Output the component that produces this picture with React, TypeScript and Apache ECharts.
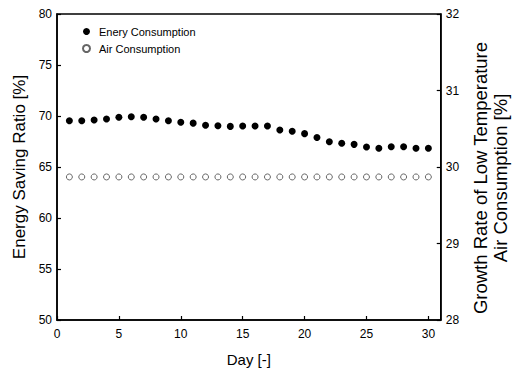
import React, { useEffect, useRef } from "react";
import * as echarts from "echarts";

const days = [1,2,3,4,5,6,7,8,9,10,11,12,13,14,15,16,17,18,19,20,21,22,23,24,25,26,27,28,29,30];
const energySaving = [69.54,69.54,69.6,69.7,69.87,69.93,69.87,69.7,69.54,69.38,69.3,69.1,69.05,68.98,69.02,69.02,69.02,68.63,68.5,68.27,67.9,67.48,67.32,67.22,66.96,66.83,66.99,66.99,66.83,66.83];
const airConsumption = [29.87,29.87,29.87,29.87,29.87,29.87,29.87,29.87,29.87,29.87,29.87,29.87,29.87,29.87,29.87,29.87,29.87,29.87,29.87,29.87,29.87,29.87,29.87,29.87,29.87,29.87,29.87,29.87,29.87,29.87];
const seriesNames = ["Enery Consumption", "Air Consumption"];

const FONT = "Liberation Sans, Arial, sans-serif";

export default function App() {
  const ref = useRef<HTMLDivElement>(null);
  useEffect(() => {
    if (!ref.current) return;
    const chart = echarts.init(ref.current, null, { renderer: "svg" });
    const axisLine = { show: true, lineStyle: { color: "#000", width: 1.5 } };
    const axisTick = { show: true, inside: true, length: 4, lineStyle: { color: "#000", width: 1.2 } };
    chart.setOption({
      animation: false,
      textStyle: { fontFamily: FONT },
      grid: { left: 57, right: 68, top: 14, bottom: 53, show: true, borderColor: "#000", borderWidth: 1.5, backgroundColor: "transparent" },
      legend: {
        orient: "vertical",
        left: 82,
        top: 26,
        padding: 0,
        itemGap: 6,
        itemWidth: 7,
        itemHeight: 7,
        textStyle: { fontFamily: FONT, fontSize: 11, color: "#000", padding: [0, 0, 0, 4] },
        data: seriesNames,
      },
      xAxis: {
        type: "value",
        min: 0,
        max: 31,
        interval: 5,
        name: "Day [-]",
        nameLocation: "middle",
        nameGap: 32,
        nameTextStyle: { fontFamily: FONT, fontSize: 15, color: "#000" },
        axisLine,
        axisTick,
        splitLine: { show: false },
        axisLabel: { color: "#000", fontSize: 12, fontFamily: FONT, margin: 8, showMaxLabel: false },
      },
      yAxis: [
        {
          type: "value",
          min: 50,
          max: 80,
          interval: 5,
          name: "Energy Saving Ratio [%]",
          nameLocation: "middle",
          nameGap: 27,
          nameTextStyle: { fontFamily: FONT, fontSize: 17, color: "#000" },
          axisLine,
          axisTick,
          splitLine: { show: false },
          axisLabel: { color: "#000", fontSize: 12, fontFamily: FONT, margin: 5 },
        },
        {
          type: "value",
          position: "right",
          min: 28,
          max: 32,
          interval: 1,
          name: "Growth Rate of Low Temperature\nAir Consumption [%]",
          nameLocation: "middle",
          nameRotate: 90,
          nameGap: 29,
          nameTextStyle: { fontFamily: FONT, fontSize: 18.5, color: "#000", lineHeight: 20, padding: [0, 22, 0, 0] },
          axisLine,
          axisTick,
          splitLine: { show: false },
          axisLabel: { color: "#000", fontSize: 12, fontFamily: FONT, margin: 5 },
        },
      ],
      series: [
        {
          name: seriesNames[0],
          type: "scatter",
          yAxisIndex: 0,
          symbol: "circle",
          symbolSize: 7,
          itemStyle: { color: "#000", opacity: 1 },
          data: days.map((d, i) => [d, energySaving[i]]),
        },
        {
          name: seriesNames[1],
          type: "scatter",
          yAxisIndex: 1,
          symbol: "circle",
          symbolSize: 6,
          itemStyle: { color: "#fff", borderColor: "#666", borderWidth: 1, opacity: 1 },
          data: days.map((d, i) => [d, airConsumption[i]]),
        },
      ],
    });
    return () => chart.dispose();
  }, []);
  return <div ref={ref} style={{ position: "absolute", left: 0, top: 0, width: 518, height: 373 }} />;
}
